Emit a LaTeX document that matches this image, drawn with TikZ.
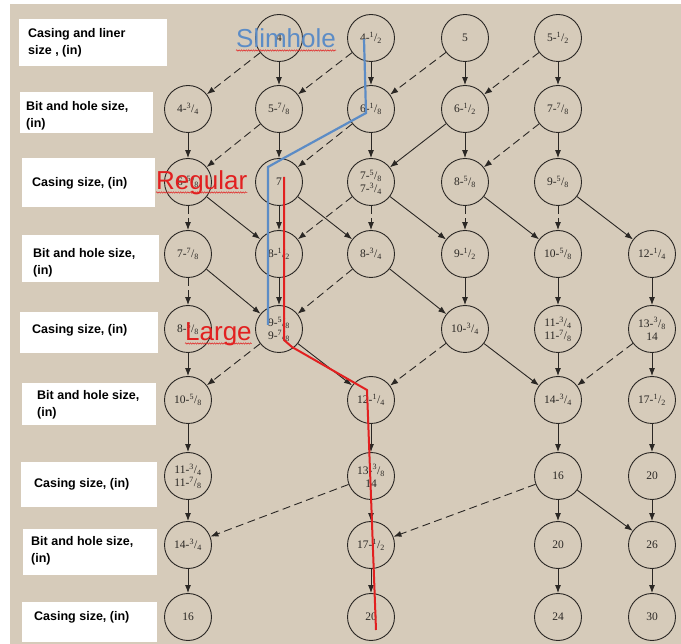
\documentclass[tikz,border=0pt]{standalone}
\usepackage{fontspec}
\setsansfont{Liberation Sans}
\newfontfamily\numfont{Liberation Serif}
\usetikzlibrary{arrows.meta,decorations.pathmorphing}

\definecolor{paper}{RGB}{214,203,186}
\definecolor{ink}{RGB}{42,39,36}
\definecolor{slimblue}{RGB}{92,140,198}
\definecolor{markred}{RGB}{226,32,32}

% fractional inch sizes: small raised numerator over lowered denominator
\newcommand\fr[2]{\textsuperscript{#1}/\textsubscript{#2}}

\begin{document}
\begin{tikzpicture}[x=1pt,y=-1pt,
  ring/.style={circle, draw=ink, line width=0.9pt, minimum size=47pt, inner sep=0pt,
    font=\numfont\fontsize{11.5}{13}\selectfont, text=ink, align=center},
  legtext/.style={font=\sffamily\bfseries\fontsize{12.5}{17}\selectfont, align=left,
    anchor=west, inner sep=0pt, text=black},
  flow/.style={-{Latex[length=8pt,width=6pt]}, draw=ink, line width=0.9pt},
  alt/.style={flow, dash pattern=on 8pt off 4.5pt},
  tag/.style={font=\sffamily\fontsize{26}{26}\selectfont, inner sep=0pt, anchor=base west},
  squiggle/.style={draw=markred, line width=0.5pt, decorate,
    decoration={snake, amplitude=0.7pt, segment length=2.4pt}}]

\useasboundingbox (0,0) rectangle (681,644);
\fill[white] (0,0) rectangle (681,644);
\fill[paper] (10,4) rectangle (681,644);

% row legends
\fill[white] (19,19) rectangle (167,66);
\node[legtext] (l1) at (28,43) {Casing and liner\\size , (in)};
\fill[white] (20,92) rectangle (153,133);
\node[legtext] (l2) at (26,116) {Bit and hole size,\\(in)};
\fill[white] (22,158) rectangle (155,207);
\node[legtext] (l3) at (32,183) {Casing size, (in)};
\fill[white] (22,235) rectangle (159,282);
\node[legtext] (l4) at (33,263) {Bit and hole size,\\(in)};
\fill[white] (20,312) rectangle (158,353);
\node[legtext] (l5) at (32,330) {Casing size, (in)};
\fill[white] (22,383) rectangle (156,425);
\node[legtext] (l6) at (37,405) {Bit and hole size,\\(in)};
\fill[white] (21,462) rectangle (157,507);
\node[legtext] (l7) at (34,484) {Casing size, (in)};
\fill[white] (23,529) rectangle (157,575);
\node[legtext] (l8) at (31,551) {Bit and hole size,\\(in)};
\fill[white] (22,602) rectangle (157,642);
\node[legtext] (l9) at (34,617) {Casing size, (in)};

% size circles
\node[ring] (n12) at (279,38) {4};
\node[ring] (n13) at (371,38) {4-\fr12};
\node[ring] (n14) at (465,38) {5};
\node[ring] (n15) at (558,38) {5-\fr12};

\node[ring] (n21) at (188,109) {4-\fr34};
\node[ring] (n22) at (279,109) {5-\fr78};
\node[ring] (n23) at (371,109) {6-\fr18};
\node[ring] (n24) at (465,109) {6-\fr12};
\node[ring] (n25) at (558,109) {7-\fr78};

\node[ring] (n31) at (188,182) {6-\fr58};
\node[ring] (n32) at (279,182) {7};
\node[ring] (n33) at (371,182) {7-\fr58\\7-\fr34};
\node[ring] (n34) at (465,182) {8-\fr58};
\node[ring] (n35) at (558,182) {9-\fr58};

\node[ring] (n41) at (188,254) {7-\fr78};
\node[ring] (n42) at (279,254) {8-\fr12};
\node[ring] (n43) at (371,254) {8-\fr34};
\node[ring] (n44) at (465,254) {9-\fr12};
\node[ring] (n45) at (558,254) {10-\fr58};
\node[ring] (n46) at (652,254) {12-\fr14};

\node[ring] (n51) at (188,329) {8-\fr58};
\node[ring] (n52) at (279,329) {9-\fr58\\9-\fr78};
\node[ring] (n54) at (465,329) {10-\fr34};
\node[ring] (n55) at (558,329) {11-\fr34\\11-\fr78};
\node[ring] (n56) at (652,329) {13-\fr38\\14};

\node[ring] (n61) at (188,400) {10-\fr58};
\node[ring] (n63) at (371,400) {12-\fr14};
\node[ring] (n65) at (558,400) {14-\fr34};
\node[ring] (n66) at (652,400) {17-\fr12};

\node[ring] (n71) at (188,476) {11-\fr34\\11-\fr78};
\node[ring] (n73) at (371,476) {13-\fr38\\14};
\node[ring] (n75) at (558,476) {16};
\node[ring] (n76) at (652,476) {20};

\node[ring] (n81) at (188,545) {14-\fr34};
\node[ring] (n83) at (371,545) {17-\fr12};
\node[ring] (n85) at (558,545) {20};
\node[ring] (n86) at (652,545) {26};

\node[ring] (n91) at (188,617) {16};
\node[ring] (n93) at (371,617) {20};
\node[ring] (n95) at (558,617) {24};
\node[ring] (n96) at (652,617) {30};

% preferred (solid) and alternative (dashed) steps
\foreach \a/\b in {n12/n22, n13/n23, n14/n24, n15/n25,
    n21/n31, n22/n32, n23/n33, n24/n34, n25/n35, n24/n33,
    n31/n42, n32/n42, n32/n43, n33/n44, n34/n45, n35/n46,
    n41/n52, n42/n52, n43/n54, n44/n54, n45/n55, n46/n56,
    n51/n61, n52/n63, n54/n65, n55/n65, n56/n66,
    n61/n71, n63/n73, n65/n75, n66/n76,
    n71/n81, n73/n83, n75/n85, n75/n86, n76/n86,
    n81/n91, n83/n93, n85/n95, n86/n96}
  \draw[flow] (\a) -- (\b);
\foreach \a/\b in {n12/n21, n13/n22, n14/n23, n15/n24,
    n22/n31, n23/n32, n25/n34,
    n31/n41, n33/n43, n33/n42, n34/n44, n35/n45,
    n41/n51, n43/n52,
    n52/n61, n54/n63, n56/n65,
    n73/n81, n75/n83}
  \draw[alt] (\a) -- (\b);

% highlighted well programs
\draw[slimblue, line width=2.2pt] (364,39) -- (366,113) -- (284,158) -- (268,167) -- (268,325);
\draw[markred, line width=2pt] (284,177) -- (284,340) -- (292,347) -- (367,390) -- (376,630);

\node[tag, text=slimblue] (slim) at (236,48) {Slimhole};
\node[tag, text=markred] (reg) at (156,190) {Regular};
\node[tag, text=markred] (large) at (185,341) {Large};
\foreach \t in {slim, reg, large}
  \path[squiggle] ([yshift=-2.5pt]\t.base west) -- ([yshift=-2.5pt]\t.base east);
\end{tikzpicture}
\end{document}
